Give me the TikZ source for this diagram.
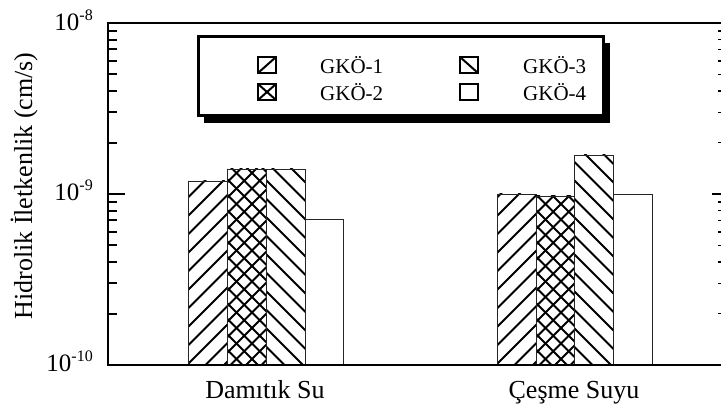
\documentclass[tikz,border=0pt]{standalone}
\usepackage{fontspec}
\setmainfont{Liberation Serif}
\newcommand{\hatchNE}[4]{%
  \begin{scope}\clip (#1,#3) rectangle (#2,365);
  \foreach \i in {0,...,24}{\draw[hatchline] ({#1-260+\i*#4},365) -- ++(260,-260);}
  \end{scope}}
\newcommand{\hatchNW}[4]{%
  \begin{scope}\clip (#1,#3) rectangle (#2,365);
  \foreach \i in {0,...,24}{\draw[hatchline] ({#1+\i*#4},365) -- ++(-260,-260);}
  \end{scope}}
\newcommand{\barframe}[3]{\draw[barbox] (#1,#3) rectangle (#2,365);}
\newcommand{\tlab}[1]{10\raisebox{10pt}{\fontsize{16}{16}\selectfont -#1}}
\begin{document}
\begin{tikzpicture}[x=1pt,y=-1pt,
  axis/.style={line width=2.8pt},
  majtick/.style={line width=2pt},
  mintick/.style={line width=2pt},
  barbox/.style={draw=black!85, line width=0.9pt},
  hatchline/.style={line width=1.8pt},
  lab/.style={font=\fontsize{26}{30}\selectfont, inner sep=0pt, anchor=base},
  leglab/.style={font=\fontsize{21}{24}\selectfont, inner sep=0pt, anchor=west},
  ticklab/.style={font=\fontsize{25}{28}\selectfont, inner sep=0pt, anchor=base east},
  legicon/.style={line width=2pt}]
\useasboundingbox (0,0) rectangle (721,411);

% ---- bars: Damitik Su ----
\hatchNE{188}{227}{181}{18.5}\barframe{188}{227}{181}
\hatchNE{227}{266}{169}{15.5}\hatchNW{227}{266}{169}{15.5}\barframe{227}{266}{169}
\hatchNW{266}{305}{169}{18.5}\barframe{266}{305}{169}
\barframe{305}{343}{219}
% ---- bars: Cesme Suyu ----
\hatchNE{497}{536}{194}{18.5}\barframe{497}{536}{194}
\hatchNE{536}{574}{196}{15.5}\hatchNW{536}{574}{196}{15.5}\barframe{536}{574}{196}
\hatchNW{574}{613}{155}{18.5}\barframe{574}{613}{155}
\barframe{613}{652}{194}

% ---- axes ----
\draw[axis] (721,23) -- (108,23) -- (108,365) -- (721,365);
\draw[majtick] (108,194) -- (125,194);
\foreach \k in {2,...,9}{
  \draw[mintick] (108,{365-171*log10(\k)}) -- (117,{365-171*log10(\k)});
  \draw[mintick] (108,{194-171*log10(\k)}) -- (117,{194-171*log10(\k)});
  \draw[line width=1.5pt] (718,{365-171*log10(\k)}) -- (721,{365-171*log10(\k)});
  \draw[line width=1.5pt] (718,{194-171*log10(\k)}) -- (721,{194-171*log10(\k)});
}
\draw[majtick] (712,194) -- (721,194);

% ---- tick labels ----
\node[ticklab] (t8) at (93,31) {\tlab{8}};
\node[ticklab] (t9) at (93,201) {\tlab{9}};
\node[ticklab] (t10) at (93,372) {\tlab{10}};

% ---- axis labels ----
\node[lab, rotate=90] (ylab) at (32,186) {Hidrolik İletkenlik (cm/s)};
\node[lab] (c1) at (265,399) {Damıtık Su};
\node[lab] (c2) at (574,399) {Çeşme Suyu};

% ---- legend ----
\fill[black] (204,43) rectangle (610,123);
\draw[line width=3pt, fill=white] (198,37) rectangle (603,116);
\draw[legicon] (258,57) rectangle (276,73);
\draw[legicon] (258,73) -- (276,57);
\draw[legicon] (258,84) rectangle (276,100);
\draw[legicon] (258,84) -- (276,100) (258,100) -- (276,84);
\draw[legicon] (460,57) rectangle (478,73);
\draw[legicon] (460,57) -- (478,73);
\draw[line width=1.6pt] (460,84) rectangle (478,100);
\node[leglab] (g1) at (320,65) {GKÖ-1};
\node[leglab] (g2) at (320,92) {GKÖ-2};
\node[leglab] (g3) at (523,65) {GKÖ-3};
\node[leglab] (g4) at (523,92) {GKÖ-4};
\end{tikzpicture}
\end{document}
